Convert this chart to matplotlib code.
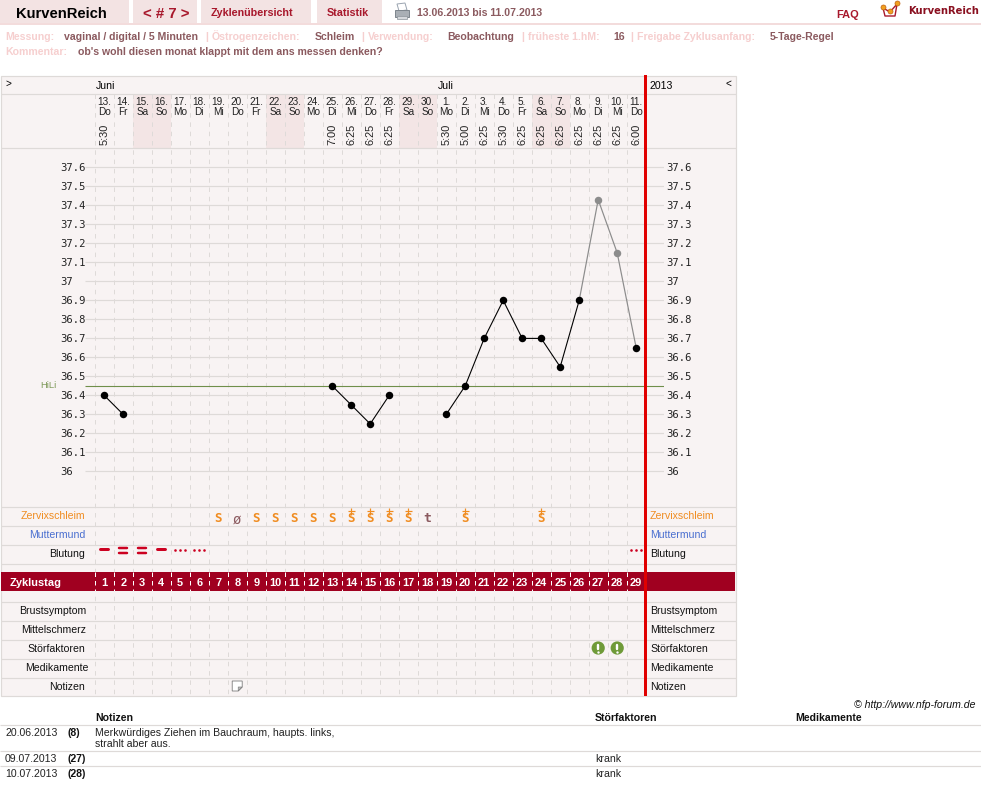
import matplotlib
matplotlib.use("Agg")
import matplotlib.pyplot as plt
from matplotlib.patches import Rectangle, Circle, Polygon

# --- cycle data -------------------------------------------------------
cycle_days = list(range(1, 30))
dates = [13, 14, 15, 16, 17, 18, 19, 20, 21, 22, 23, 24, 25, 26, 27, 28, 29, 30,
         1, 2, 3, 4, 5, 6, 7, 8, 9, 10, 11]
weekdays = ["Do", "Fr", "Sa", "So", "Mo", "Di", "Mi", "Do", "Fr", "Sa", "So", "Mo", "Di", "Mi",
            "Do", "Fr", "Sa", "So", "Mo", "Di", "Mi", "Do", "Fr", "Sa", "So", "Mo", "Di", "Mi", "Do"]
times = ["5:30", "", "", "", "", "", "", "", "", "", "", "", "7:00", "6:25", "6:25", "6:25", "", "",
         "5:30", "5:00", "6:25", "5:30", "6:25", "6:25", "6:25", "6:25", "6:25", "6:25", "6:00"]
temps_a_days = [1, 2]
temps_a = [36.4, 36.3]
temps_b_days = [13, 14, 15, 16]
temps_b = [36.45, 36.35, 36.25, 36.4]
temps_c_days = [19, 20, 21, 22, 23, 24, 25, 26]
temps_c = [36.3, 36.45, 36.7, 36.9, 36.7, 36.7, 36.55, 36.9]
temps_excl_days = [26, 27, 28, 29]
temps_excl = [36.9, 37.43, 37.15, 36.65]
coverline = 36.45
temp_ticks = [36, 36.1, 36.2, 36.3, 36.4, 36.5, 36.6, 36.7, 36.8, 36.9, 37,
              37.1, 37.2, 37.3, 37.4, 37.5, 37.6]
mucus_s = [7, 9, 10, 11, 12, 13]
mucus_s_plus = [14, 15, 16, 17, 20, 24]
mucus_none = [8]
mucus_t = [18]
bleed_single = [1, 4]
bleed_double = [2, 3]
bleed_dots = [5, 6, 29]
disturbances = [27, 28]
note_days = [8]
left_rows = ["Zervixschleim", "Muttermund", "Blutung", "Brustsymptom", "Mittelschmerz",
             "Störfaktoren", "Medikamente", "Notizen"]

W, H = 981, 810
DPI = 100
px = 72 / DPI  # one pixel in points

PANEL = "#f8f3f3"
WEEKEND = "#f3e5e5"
GRID = "#dedad8"
DARKRED = "#a00020"
TAB = "#f3e3e3"
BROWN = "#8b5a5f"
PALE = "#f6cfcf"
ORANGE = "#f08c20"
SANS = "Liberation Sans"
BODY = 10.5

plt.rcParams["font.family"] = [SANS, "DejaVu Sans"]
fig = plt.figure(figsize=(W / DPI, H / DPI), dpi=DPI, facecolor="white")

# Page layer, addressed in pixels from the top-left corner.
ax = fig.add_axes([0, 0, 1, 1])
ax.set_xlim(0, W)
ax.set_ylim(H, 0)
ax.axis("off")


def T(x, y, s, size=BODY, color="black", weight="normal", ha="left", va="center", **kw):
    # Centre on the cap height so accents and descenders do not shift a line.
    if va == "center" and "rotation" not in kw:
        y, va = y + 0.36 * size, "baseline"
    return ax.text(x, y, s, fontsize=size * px, color=color, fontweight=weight,
                   ha=ha, va=va, **kw)


def day_x(d):
    return 104.2 + 19 * (d - 1)


# --- navigation strip -------------------------------------------------
for x0, x1 in [(0, 129), (133, 197), (201, 311), (317, 382)]:
    ax.add_patch(Rectangle((x0, 0), x1 - x0, 23, fc=TAB, ec="none"))
ax.add_patch(Rectangle((0, 23), W, 2, fc="#f3dcdc", ec="none"))
T(16, 13, "KurvenReich", 14.7, "black", "bold")
T(143, 13, "< # 7 >", 15, "#a8182c", "bold")
T(211, 12, "Zyklenübersicht", 10.8, "#a8182c", "bold")
T(327, 12, "Statistik", 10.8, "#a8182c", "bold")
T(417, 12, "13.06.2013 bis 11.07.2013", BODY, BROWN, "bold")
T(836, 14, "FAQ", 11, "#a8182c", "bold")
T(908, 10, "KurvenReich", 10.0, "#8a1020", "bold", family="DejaVu Sans")

# Printer symbol
ax.add_patch(Polygon([[397, 4], [405, 3], [407, 10], [399, 11]], fc="white", ec="#9aa4b0", lw=0.7))
ax.add_patch(Rectangle((395, 10), 14, 7, fc="#a9afb5", ec="#7d858c", lw=0.7))
ax.add_patch(Rectangle((397, 16), 10, 3, fc="#d5d8dc", ec="#8d949b", lw=0.5))

# Logo mark
ax.plot([883, 885, 895, 897, 890, 883], [8, 16, 16, 4, 12, 8], color="#a8182c", lw=1.0,
        solid_joinstyle="round")
ax.plot([883, 890, 897], [7, 11, 3], ls="none", marker="o", ms=3.6, color="#f0a020",
        mec="#c06010", mew=0.5)

# --- cycle settings ---------------------------------------------------
meta_1 = [(5, "Messung:", PALE), (64, "vaginal / digital / 5 Minuten", BROWN), (205, "|", PALE),
          (212, "Östrogenzeichen:", PALE), (315, "Schleim", BROWN), (361, "|", PALE),
          (368, "Verwendung:", PALE), (447, "Beobachtung", BROWN), (521, "|", PALE),
          (528, "früheste 1.hM:", PALE), (613, "16", BROWN), (630, "|", PALE),
          (637, "Freigabe Zyklusanfang:", PALE), (770, "5-Tage-Regel", BROWN)]
for x, s, c in meta_1:
    T(x, 36, s, BODY, c, "bold")
T(5, 51, "Kommentar:", BODY, PALE, "bold")
T(78, 51, "ob's wohl diesen monat klappt mit dem ans messen denken?", BODY, BROWN, "bold")

# --- chart frame ------------------------------------------------------
ax.add_patch(Rectangle((0.5, 75.5), 735, 620.5, fc=PANEL, ec=GRID, lw=1.2 * px, zorder=0))
for i, (wd, d) in enumerate(zip(weekdays, cycle_days)):
    if wd in ("Sa", "So"):
        ax.add_patch(Rectangle((day_x(d) - 9.7, 94), 19, 53.5, fc=WEEKEND, ec="none", zorder=0.5))

for y in [93.5, 147.5, 506.5, 525.5, 544.5, 563.5, 601.5, 620.5, 639.5, 658.5, 677.5]:
    ax.plot([0.5, 735.5], [y, y], color=GRID, lw=1.2 * px, zorder=1, solid_capstyle="butt")

# Cycle-day band
ax.add_patch(Rectangle((1, 572), 734, 19, fc=DARKRED, ec="none", zorder=1.5))

# Dashed day separators, white where they cross the band
for d in cycle_days:
    x = day_x(d) - 9.7
    ax.plot([x, x], [94, 696], color=GRID, lw=1.0 * px, dashes=(4.5, 4.8), zorder=1.2)
    ax.plot([x, x], [572, 591], color="white", lw=1.0 * px, dashes=(4.5, 4.0), zorder=1.7)

# --- header --------------------------------------------------------------
T(5, 83, ">", 10)
T(725, 83, "<", 10)
T(96, 85.5, "Juni", BODY)
T(438, 85.5, "Juli", BODY)
T(650, 85.5, "2013", BODY)
for d, dt, wd, tm in zip(cycle_days, dates, weekdays, times):
    x = day_x(d)
    T(x, 101, f"{dt}.", 10, "#222222", ha="center")
    T(x, 111, wd, 10, "#222222", ha="center")
    if tm:
        T(x, 145, tm, 11, "#222222", ha="center", va="bottom", rotation=90)

# --- temperature axes: same pixel frame, own data scale -------------------
CH_L, CH_R, CH_T, CH_B = 85, 664, 148, 506
chart = fig.add_axes([CH_L / W, 1 - CH_B / H, (CH_R - CH_L) / W, (CH_B - CH_T) / H])
chart.set_xlim(1 + (CH_L - 104.2) / 19, 1 + (CH_R - 104.2) / 19)
chart.set_ylim(37.6 - (CH_B - 167.4) / 190, 37.6 - (CH_T - 167.4) / 190)
chart.axis("off")
chart.patch.set_alpha(0)
chart.hlines(temp_ticks, *chart.get_xlim(), color=GRID, lw=1.2 * px, zorder=1)
chart.hlines(coverline, *chart.get_xlim(), color="#6f8f4a", lw=1.1 * px, zorder=2)

for days, vals in [(temps_a_days, temps_a), (temps_b_days, temps_b), (temps_c_days, temps_c)]:
    chart.plot(days, vals, color="black", lw=1.1 * px, marker="o", ms=7.5 * px,
               mfc="black", mec="black", mew=0, zorder=4)
chart.plot(temps_excl_days, temps_excl, color="#8c8c8c", lw=1.2 * px, zorder=3)
chart.plot(temps_excl_days[1:3], temps_excl[1:3], ls="none", marker="o", ms=7.5 * px,
           mfc="#8c8c8c", mew=0, zorder=4)
chart.plot(temps_excl_days[3:], temps_excl[3:], ls="none", marker="o", ms=7.5 * px,
           mfc="black", mew=0, zorder=4)

for v in temp_ticks:
    y = 167.4 + (37.6 - v) * 190
    label = f"{v:g}"
    T(60, y, label, 10.5, "#222222", family="DejaVu Sans Mono", zorder=5)
    T(666, y, label, 10.5, "#222222", family="DejaVu Sans Mono", zorder=5)
T(40, 385, "HiLi", 9.5, "#7f9a5a")

# --- observation rows ----------------------------------------------------
left_y = [515, 534, 553, 610, 629, 648, 667, 686]
left_x = [85, 85, 85, 86, 86, 85, 89, 85]
row_col = [ORANGE, "#4a6fd0", "#111111", "#111111", "#111111", "#111111", "#111111", "#111111"]
for s, y, x, c in zip(left_rows, left_y, left_x, row_col):
    T(x, y, s, BODY, c, ha="right")
    T(650, y, s, BODY, c)

for d in mucus_s + mucus_s_plus:
    T(day_x(d), 518, "S", 12.5, ORANGE, "bold", ha="center", family="DejaVu Sans Mono")
ax.plot([day_x(d) for d in mucus_s_plus], [510.5] * len(mucus_s_plus), ls="none", marker="+",
        ms=7 * px, mew=1.2 * px, color=ORANGE, zorder=3)
for d in mucus_none:
    T(day_x(d), 518, "ø", 14, BROWN, ha="center", family="DejaVu Sans Mono")
for d in mucus_t:
    T(day_x(d), 517.5, "t", 13, BROWN, "bold", ha="center", family="DejaVu Sans Mono")

RED = "#cc0020"
for d in bleed_single:
    ax.plot([day_x(d) - 3.8, day_x(d) + 3.8], [549.3, 549.3], color=RED, lw=3.0 * px,
            solid_capstyle="round", zorder=3)
for d in bleed_double:
    for y in (548.2, 552.6):
        ax.plot([day_x(d) - 3.8, day_x(d) + 3.8], [y, y], color=RED, lw=2.5 * px,
                solid_capstyle="round", zorder=3)
for d in bleed_dots:
    ax.plot([day_x(d) - 4.8, day_x(d), day_x(d) + 4.8], [549.6] * 3, ls="none", marker="o",
            ms=2.6 * px, color=RED, mew=0, zorder=3)

T(10, 582, "Zyklustag", 11, "white", "bold", zorder=3)
for d in cycle_days:
    T(day_x(d), 582, str(d), 11, "white", "bold", ha="center", zorder=3)

for d in disturbances:
    ax.add_patch(Circle((day_x(d), 648), 6.6, fc="#6f9a38", ec="none", zorder=3))
    ax.plot([day_x(d)] * 2, [644.5, 648.5], color="white", lw=2.4 * px, zorder=4,
            solid_capstyle="round")
    ax.plot([day_x(d)], [651.5], ls="none", marker="o", ms=2.4 * px, color="white", mew=0, zorder=4)

for d in note_days:
    x = day_x(d) - 5
    ax.add_patch(Polygon([[x, 681], [x + 10, 681], [x + 10, 687], [x + 6, 691], [x, 691]],
                         fc="white", ec="#777777", lw=0.8 * px, zorder=3))
    ax.add_patch(Polygon([[x + 6, 687], [x + 10, 687], [x + 6, 691]],
                         fc="#bbbbbb", ec="#777777", lw=0.6 * px, zorder=3))

# Red rule on its own top layer, above the temperature grid
top = fig.add_axes([0, 0, 1, 1])
top.set_xlim(0, W)
top.set_ylim(H, 0)
top.axis("off")
top.patch.set_alpha(0)
top.add_patch(Rectangle((644, 75), 3, 621, fc="#e00000", ec="none"))
ax.set_zorder(1)
chart.set_zorder(2)
top.set_zorder(3)

# --- notes table ---------------------------------------------------------
T(976, 704, "© http://www.nfp-forum.de", BODY, "#111111", ha="right", style="italic")
T(95, 717, "Notizen", BODY, "#111111", "bold")
T(595, 717, "Störfaktoren", BODY, "#111111", "bold")
T(795, 717, "Medikamente", BODY, "#111111", "bold")
for y in [724.5, 750.5, 765.5]:
    ax.plot([0, W], [y, y], color=GRID, lw=1.2 * px, solid_capstyle="butt")

note_dates = ["20.06.2013", "09.07.2013", "10.07.2013"]
note_cdays = ["(8)", "(27)", "(28)"]
note_y = [732, 758, 773]
note_factors = ["", "krank", "krank"]
for dt, cd, y, fac in zip(note_dates, note_cdays, note_y, note_factors):
    T(5, y, dt, BODY, "#222222")
    T(68, y, cd, BODY, "#111111", "bold")
    if fac:
        T(595, y, fac, BODY, "#222222")
T(95, 732, "Merkwürdiges Ziehen im Bauchraum, haupts. links,", BODY, "#222222")
T(95, 743, "strahlt aber aus.", BODY, "#222222")

fig.savefig("out.png", dpi=DPI, facecolor="white")
